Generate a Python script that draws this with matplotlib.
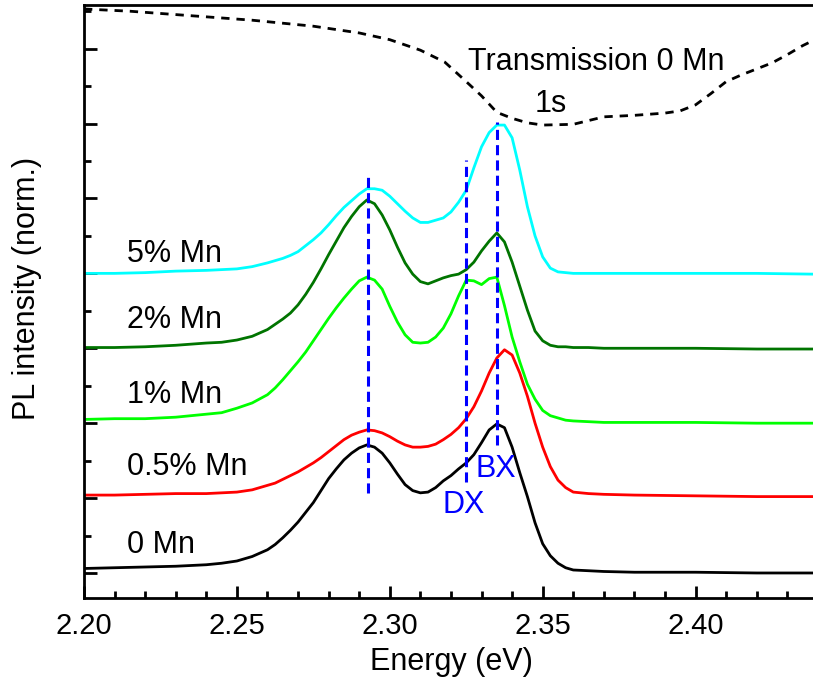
import matplotlib
matplotlib.use("Agg")
import matplotlib.pyplot as plt
from matplotlib.ticker import MultipleLocator, FormatStrFormatter

plt.rcParams["font.family"] = ["Liberation Sans", "DejaVu Sans"]

# PL spectra, stacked with an offset of 1 per sample
energy = [2.200, 2.210, 2.220, 2.230, 2.240, 2.245, 2.250, 2.255,
          2.260, 2.2625, 2.265, 2.2675, 2.270, 2.2725, 2.275, 2.2775, 2.280, 2.2825,
          2.285, 2.2875, 2.290, 2.2925, 2.295, 2.2975, 2.300, 2.3025, 2.305, 2.3075,
          2.310, 2.3125, 2.315, 2.3175, 2.320, 2.3225, 2.325, 2.3275, 2.330, 2.3325,
          2.335, 2.3375, 2.340, 2.3425, 2.345, 2.3475, 2.350, 2.3525, 2.355, 2.3575,
          2.360,
          2.365, 2.370, 2.380, 2.400, 2.420, 2.438]
pl_0mn = [0.06, 0.07, 0.08, 0.09, 0.11, 0.13, 0.16, 0.22,
          0.31, 0.38, 0.47, 0.57, 0.68, 0.81, 0.94, 1.10, 1.26, 1.39,
          1.51, 1.60, 1.67, 1.71, 1.68, 1.60, 1.47, 1.32, 1.18, 1.10,
          1.07, 1.08, 1.14, 1.23, 1.30, 1.39, 1.47, 1.58, 1.74, 1.91,
          1.99, 1.94, 1.68, 1.34, 1.02, 0.67, 0.39, 0.23, 0.13, 0.07,
          0.04,
          0.03, 0.02, 0.01, 0.01, 0.00, 0.00]
pl_05mn = [1.04, 1.04, 1.05, 1.06, 1.06, 1.07, 1.08, 1.11,
           1.17, 1.20, 1.25, 1.30, 1.35, 1.41, 1.47, 1.54, 1.62, 1.70,
           1.78, 1.84, 1.88, 1.91, 1.90, 1.87, 1.82, 1.76, 1.71, 1.68,
           1.68, 1.69, 1.72, 1.78, 1.85, 1.94, 2.06, 2.22, 2.43, 2.67,
           2.87, 2.98, 2.91, 2.67, 2.36, 2.00, 1.68, 1.42, 1.24, 1.14,
           1.08,
           1.06, 1.05, 1.04, 1.03, 1.02, 1.02]
pl_1mn = [2.05, 2.06, 2.06, 2.08, 2.12, 2.14, 2.20, 2.27,
          2.38, 2.47, 2.58, 2.70, 2.82, 2.95, 3.10, 3.25, 3.40, 3.54,
          3.67, 3.79, 3.90, 3.95, 3.91, 3.79, 3.56, 3.35, 3.18, 3.08,
          3.07, 3.08, 3.15, 3.27, 3.46, 3.70, 3.91, 3.90, 3.85, 3.93,
          3.95, 3.57, 3.15, 2.82, 2.52, 2.32, 2.17, 2.10, 2.07, 2.04,
          2.03,
          2.02, 2.01, 2.01, 2.01, 2.00, 2.00]
pl_2mn = [3.01, 3.01, 3.02, 3.04, 3.07, 3.08, 3.11, 3.16,
          3.25, 3.32, 3.39, 3.47, 3.58, 3.72, 3.88, 4.06, 4.25, 4.43,
          4.61, 4.76, 4.89, 4.98, 4.93, 4.78, 4.58, 4.35, 4.14, 3.99,
          3.89, 3.86, 3.90, 3.94, 3.97, 3.99, 4.05, 4.15, 4.30, 4.43,
          4.54, 4.42, 4.15, 3.83, 3.51, 3.23, 3.10, 3.04, 3.02, 3.02,
          3.01,
          3.01, 3.00, 3.00, 3.00, 2.99, 2.99]
pl_5mn = [4.00, 4.00, 4.01, 4.03, 4.04, 4.05, 4.06, 4.09,
          4.14, 4.17, 4.20, 4.24, 4.29, 4.37, 4.45, 4.54, 4.65, 4.77,
          4.88, 4.97, 5.06, 5.13, 5.13, 5.11, 5.03, 4.93, 4.83, 4.74,
          4.68, 4.68, 4.71, 4.74, 4.82, 4.95, 5.11, 5.41, 5.69, 5.88,
          5.98, 5.98, 5.81, 5.38, 4.89, 4.50, 4.22, 4.07, 4.02, 4.01,
          4.00,
          4.00, 4.00, 4.00, 4.00, 4.00, 3.99]

# transmission of the undoped sample (dashed, top)
trans_energy = [2.200, 2.215, 2.235, 2.255, 2.275, 2.290, 2.300, 2.310, 2.318, 2.325,
                2.330, 2.335, 2.340, 2.345, 2.350, 2.360, 2.370, 2.380, 2.390, 2.395,
                2.400, 2.405, 2.410, 2.415, 2.420, 2.425, 2.430, 2.435, 2.438]
trans = [7.53, 7.50, 7.44, 7.38, 7.30, 7.21, 7.12, 6.98, 6.82, 6.56,
         6.37, 6.15, 6.07, 6.01, 5.98, 5.99, 6.09, 6.11, 6.14, 6.17,
         6.25, 6.40, 6.56, 6.65, 6.73, 6.81, 6.92, 7.04, 7.10]

# peak markers (X, DX, BX)
mark_energy = [2.293, 2.325, 2.335]
mark_low = [1.07, 1.22, 1.71]
mark_high = [5.34, 5.51, 6.02]

series = [("0 Mn", pl_0mn, "black", 0.27),
          ("0.5% Mn", pl_05mn, "#ff0000", 1.31),
          ("1% Mn", pl_1mn, "#00ff00", 2.27),
          ("2% Mn", pl_2mn, "#007400", 3.27),
          ("5% Mn", pl_5mn, "#00ffff", 4.15)]

fig = plt.figure(figsize=(8.13, 6.94), dpi=100)
ax = fig.add_axes([84 / 813, 96 / 694, 733.9 / 813, 593 / 694])

for label, vals, color, ylab in series:
    ax.plot(energy, vals, color=color, lw=2)
    ax.text(2.2141, ylab, label, fontsize=22, ha="left", va="baseline")

ax.plot(trans_energy, trans, color="black", lw=2, ls=(0, (3, 2.5)))
ax.vlines(mark_energy, mark_low, mark_high, colors="#0000ff", lw=2.2,
          linestyles=[(0, (3.3, 1.7))])

ax.text(2.3256, 6.72, "Transmission 0 Mn", fontsize=22, va="baseline")
ax.text(2.3475, 6.15, "1s", fontsize=22, va="baseline")
ax.text(2.3174, 0.80, "DX", fontsize=22, va="baseline", color="#0000ff")
ax.text(2.3279, 1.28, "BX", fontsize=22, va="baseline", color="#0000ff")

ax.set_xlim(2.20, 2.44)
ax.set_ylim(-0.334, 7.583)
ax.xaxis.set_major_locator(MultipleLocator(0.05))
ax.xaxis.set_minor_locator(MultipleLocator(0.01))
ax.yaxis.set_major_locator(MultipleLocator(1))
ax.yaxis.set_minor_locator(MultipleLocator(0.5))
ax.xaxis.set_major_formatter(FormatStrFormatter("%.2f"))
ax.tick_params(which="both", direction="in", width=2, top=False, right=False)
ax.tick_params(which="major", length=9, labelsize=21, pad=10)
ax.tick_params(which="minor", length=5)
ax.tick_params(axis="y", labelleft=False)
for side in ax.spines.values():
    side.set_linewidth(2)

ax.set_xlabel("Energy (eV)", fontsize=22, labelpad=5)
fig.text(27 / 813, 1 - 288 / 694, "PL intensity (norm.)", fontsize=22,
         rotation=90, ha="center", va="center")

fig.savefig("out.png", dpi=100)
